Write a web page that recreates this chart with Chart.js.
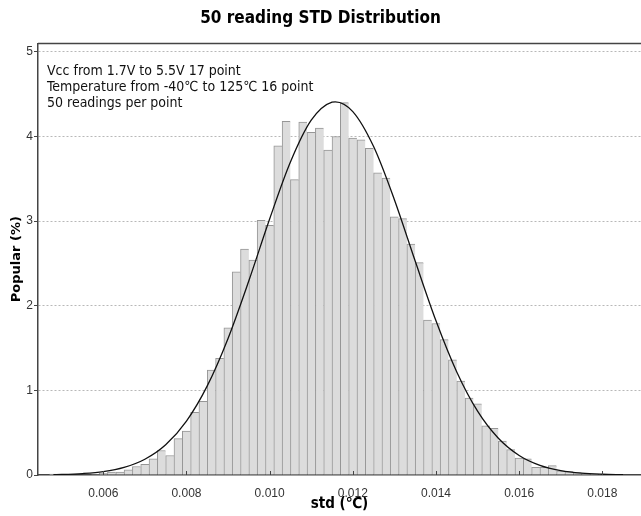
<!DOCTYPE html>
<html>
<head>
<meta charset="utf-8">
<script src="https://cdn.jsdelivr.net/npm/chart.js@4"></script>
<style>
  body { margin: 0; background: #fff; }
  #wrap { width: 641px; height: 516px; }
</style>
</head>
<body>
<div id="wrap"><canvas id="histo" width="641" height="516"></canvas></div>
<script>
// histogram bins (centre of each 0.0002 bin) and share of readings in %
const binCenters = [
  0.0048, 0.0050, 0.0052, 0.0054, 0.0056, 0.0058, 0.0060, 0.0062, 0.0064, 0.0066,
  0.0068, 0.0070, 0.0072, 0.0074, 0.0076, 0.0078, 0.0080, 0.0082, 0.0084, 0.0086,
  0.0088, 0.0090, 0.0092, 0.0094, 0.0096, 0.0098, 0.0100, 0.0102, 0.0104, 0.0106,
  0.0108, 0.0110, 0.0112, 0.0114, 0.0116, 0.0118, 0.0120, 0.0122, 0.0124, 0.0126,
  0.0128, 0.0130, 0.0132, 0.0134, 0.0136, 0.0138, 0.0140, 0.0142, 0.0144, 0.0146,
  0.0148, 0.0150, 0.0152, 0.0154, 0.0156, 0.0158, 0.0160, 0.0162, 0.0164, 0.0166,
  0.0168, 0.0170, 0.0172, 0.0174, 0.0176, 0.0178, 0.0180, 0.0182, 0.0184
];
const popular = [
  0.012, 0, 0, 0, 0, 0.006, 0.02, 0.035, 0.035, 0.06,
  0.10, 0.125, 0.19, 0.29, 0.23, 0.43, 0.52, 0.74, 0.87, 1.24,
  1.38, 1.74, 2.40, 2.67, 2.54, 3.01, 2.95, 3.89, 4.18, 3.49,
  4.17, 4.05, 4.10, 3.84, 4.00, 4.40, 3.98, 3.96, 3.86, 3.57,
  3.51, 3.05, 3.03, 2.73, 2.51, 1.83, 1.79, 1.60, 1.36, 1.11,
  0.91, 0.84, 0.58, 0.55, 0.40, 0.30, 0.20, 0.19, 0.09, 0.09,
  0.11, 0.05, 0.04, 0.03, 0.02, 0.01, 0.008, 0.005, 0.003
];

// fitted normal curve
const fitX = [0.0048, 0.0050, 0.0055, 0.0060, 0.0065, 0.0070, 0.0075, 0.0080, 0.0085, 0.0090,
  0.0095, 0.0100, 0.0105, 0.0110, 0.0115, 0.01158, 0.0120, 0.0125, 0.0130, 0.0135,
  0.0140, 0.0145, 0.0150, 0.0155, 0.0160, 0.0165, 0.0170, 0.0175, 0.0180, 0.0185];
const fitY = [0.004, 0.006, 0.017, 0.040, 0.090, 0.186, 0.357, 0.637, 1.053, 1.614,
  2.295, 3.025, 3.698, 4.192, 4.406, 4.41, 4.294, 3.881, 3.253, 2.528,
  1.822, 1.217, 0.754, 0.434, 0.231, 0.114, 0.052, 0.022, 0.009, 0.003];

const xTicks = [0.006, 0.008, 0.010, 0.012, 0.014, 0.016, 0.018];
const yTicks = [0, 1, 2, 3, 4, 5];
const noteLines = [
  'Vcc from 1.7V to 5.5V 17 point',
  'Temperature from -40℃ to 125℃ 16 point',
  '50 readings per point'
];

const narrow = '"Liberation Sans Narrow", "DejaVu Sans Condensed", "Liberation Sans", sans-serif';

const framePlugin = {
  id: 'frame',
  afterDraw(chart) {
    const {ctx, chartArea} = chart;
    ctx.save();
    // top border of the plot box
    ctx.strokeStyle = '#444';
    ctx.lineWidth = 1.5;
    ctx.beginPath();
    ctx.moveTo(chartArea.left, chartArea.top);
    ctx.lineTo(chartArea.right, chartArea.top);
    ctx.stroke();
    // small inward ticks on the x axis
    const xs = chart.scales.x;
    ctx.lineWidth = 1;
    xTicks.forEach(v => {
      const px = Math.round(xs.getPixelForValue(v)) + 0.5;
      ctx.beginPath();
      ctx.moveTo(px, chartArea.bottom);
      ctx.lineTo(px, chartArea.bottom - 4);
      ctx.stroke();
    });
    // notes
    ctx.fillStyle = '#111';
    ctx.font = '14px ' + narrow;
    ctx.textBaseline = 'middle';
    noteLines.forEach((t, i) => {
      ctx.fillText(t, chartArea.left + 9, chartArea.top + 27.5 + i * 16.3);
    });
    ctx.restore();
  }
};

let miCanvas = document.getElementById('histo').getContext('2d');
var chart = new Chart(miCanvas, {
  type: 'bar',
  data: {
    datasets: [
      {
        type: 'line',
        label: 'fit',
        data: fitX.map((x, i) => ({x: x, y: fitY[i]})),
        borderColor: '#111',
        borderWidth: 1.3,
        pointRadius: 0,
        cubicInterpolationMode: 'monotone',
        fill: false,
        order: 0
      },
      {
        label: 'Popular (%)',
        data: binCenters.map((x, i) => ({x: x, y: popular[i]})),
        backgroundColor: 'rgb(220,220,220)',
        borderColor: 'rgb(150,150,150)',
        borderWidth: {top: 1, left: 1, right: 0, bottom: 0},
        borderSkipped: false,
        barPercentage: 1,
        categoryPercentage: 1,
        grouped: false,
        order: 1
      }
    ]
  },
  options: {
    responsive: false,
    animation: false,
    layout: {padding: 0},
    plugins: {
      legend: {display: false},
      tooltip: {enabled: false},
      title: {
        display: true,
        text: '50 reading STD Distribution',
        color: '#000',
        font: {family: narrow, size: 17, weight: 'bold'},
        padding: {top: 8, bottom: 15}
      }
    },
    scales: {
      x: {
        type: 'linear',
        min: 0.00443,
        max: 0.01893,
        offset: false,
        afterBuildTicks: s => { s.ticks = xTicks.map(v => ({value: v})); },
        afterFit: s => { s.height = 41; },
        grid: {display: false, offset: false},
        border: {display: true, color: '#444', width: 1.5},
        ticks: {
          color: '#333',
          font: {family: '"Liberation Sans", Arial, sans-serif', size: 12},
          padding: 3,
          maxRotation: 0,
          autoSkip: false,
          callback: v => v.toFixed(3)
        },
        title: {
          display: true,
          text: 'std (℃)',
          color: '#000',
          font: {family: narrow, size: 15, weight: 'bold'},
          padding: {top: 2, bottom: 3}
        }
      },
      y: {
        min: 0,
        max: 5.1,
        afterBuildTicks: s => { s.ticks = yTicks.map(v => ({value: v})); },
        afterFit: s => { s.width = 38; },
        grid: {
          color: c => c.tick && c.tick.value === 0 ? 'rgba(0,0,0,0)' : '#b8b8b8',
          lineWidth: 1,
          drawTicks: true,
          tickLength: 4,
          tickColor: '#444'
        },
        border: {display: true, color: '#444', width: 1.5, dash: [2, 2]},
        ticks: {
          color: '#333',
          font: {family: '"Liberation Sans", Arial, sans-serif', size: 12},
          padding: 1
        },
        title: {
          display: true,
          text: 'Popular (%)',
          color: '#000',
          font: {family: '"DejaVu Sans", Verdana, sans-serif', size: 13, weight: 'bold'},
          padding: {top: 9, bottom: 0}
        }
      }
    }
  },
  plugins: [framePlugin]
});
</script>
</body>
</html>
